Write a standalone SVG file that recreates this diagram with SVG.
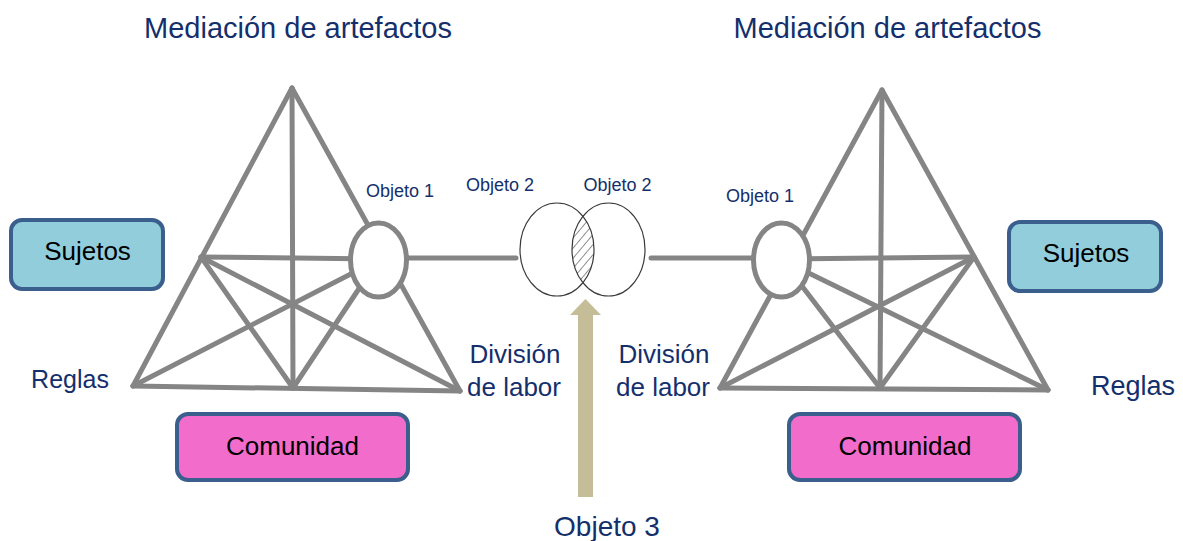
<svg xmlns="http://www.w3.org/2000/svg" width="1183" height="541" viewBox="0 0 1183 541">
<style>
.ln{stroke:#858585;stroke-width:5;fill:none;stroke-linecap:round}
.obj{fill:#fff;stroke:#858585;stroke-width:5}
.venn{fill:none;stroke:#3a3a3a;stroke-width:1.2}
.lbl{font-family:"Liberation Sans",Arial,sans-serif;fill:#142f6b}
.box{stroke:#3b5f8c;stroke-width:4}
.suj{fill:#92cddc}
.com{fill:#f26ccc}
.bt{font-family:"Liberation Sans",Arial,sans-serif;fill:#000;font-size:26px;text-anchor:middle}
</style>
<defs>
<pattern id="hatch" patternUnits="userSpaceOnUse" width="6.5" height="6.5" patternTransform="rotate(40)">
<line x1="0" y1="0" x2="0" y2="6.5" stroke="#555" stroke-width="1.3"/>
</pattern>
<clipPath id="clipL"><ellipse cx="557" cy="249.5" rx="37" ry="46.5"/></clipPath>
</defs>

<g id="connectors">
<line class="ln" x1="405" y1="258" x2="516" y2="258" stroke-linecap="butt"/>
<line class="ln" x1="651" y1="258" x2="755" y2="258" stroke-linecap="butt"/>
<polygon points="578,497 593,497 593,315 601,315 585.5,299 570,315 578,315" fill="#c4bd97"/>
</g>

<g id="left-system">
<line class="ln" x1="292" y1="88" x2="133" y2="386"/>
<line class="ln" x1="292" y1="88" x2="460" y2="391"/>
<line class="ln" x1="292" y1="88" x2="293" y2="388"/>
<line class="ln" x1="133" y1="386" x2="460" y2="391"/>
<line class="ln" x1="201" y1="257" x2="378" y2="259"/>
<line class="ln" x1="201" y1="257" x2="460" y2="391"/>
<line class="ln" x1="201" y1="257" x2="293" y2="388"/>
<line class="ln" x1="378" y1="260" x2="133" y2="386"/>
<line class="ln" x1="378" y1="260" x2="293" y2="388"/>
<ellipse id="objeto1-left" class="obj" cx="378.5" cy="260" rx="28" ry="37"/>
</g>

<g id="right-system">
<line class="ln" x1="882" y1="90" x2="720" y2="388"/>
<line class="ln" x1="882" y1="90" x2="1048" y2="390"/>
<line class="ln" x1="882" y1="90" x2="880" y2="388"/>
<line class="ln" x1="720" y1="388" x2="1048" y2="390"/>
<line class="ln" x1="974" y1="257" x2="782" y2="259"/>
<line class="ln" x1="974" y1="257" x2="720" y2="388"/>
<line class="ln" x1="974" y1="257" x2="880" y2="388"/>
<line class="ln" x1="782" y1="260" x2="1048" y2="390"/>
<line class="ln" x1="782" y1="260" x2="880" y2="388"/>
<ellipse id="objeto1-right" class="obj" cx="781.5" cy="260" rx="28" ry="37"/>
</g>

<g id="objeto2-venn">
<ellipse cx="557" cy="249.5" rx="37" ry="46.5" fill="#fff"/>
<ellipse cx="608.5" cy="249.5" rx="36.5" ry="46.5" fill="#fff"/>
<ellipse cx="608.5" cy="249.5" rx="36.5" ry="46.5" fill="url(#hatch)" clip-path="url(#clipL)"/>
<ellipse class="venn" cx="557" cy="249.5" rx="37" ry="46.5"/>
<ellipse class="venn" cx="608.5" cy="249.5" rx="36.5" ry="46.5"/>
</g>

<g id="sujetos-left">
<rect class="box suj" x="11" y="220" width="152" height="69" rx="11"/>
<text class="bt" x="87.5" y="260">Sujetos</text>
</g>
<g id="sujetos-right">
<rect class="box suj" x="1009" y="222" width="152" height="69" rx="11"/>
<text class="bt" x="1086" y="262">Sujetos</text>
</g>
<g id="comunidad-left">
<rect class="box com" x="177" y="414" width="231" height="66" rx="11"/>
<text class="bt" x="292.5" y="455">Comunidad</text>
</g>
<g id="comunidad-right">
<rect class="box com" x="789" y="414" width="231" height="66" rx="11"/>
<text class="bt" x="905" y="455">Comunidad</text>
</g>

<g id="labels">
<text class="lbl" x="298" y="38" font-size="29" text-anchor="middle">Mediación de artefactos</text>
<text class="lbl" x="887.5" y="38" font-size="29" text-anchor="middle">Mediación de artefactos</text>
<text class="lbl" x="400" y="197" font-size="18" text-anchor="middle">Objeto 1</text>
<text class="lbl" x="500" y="191" font-size="18" text-anchor="middle">Objeto 2</text>
<text class="lbl" x="617.5" y="191" font-size="18" text-anchor="middle">Objeto 2</text>
<text class="lbl" x="760" y="202" font-size="18" text-anchor="middle">Objeto 1</text>
<text class="lbl" x="70" y="388" font-size="25" text-anchor="middle">Reglas</text>
<text class="lbl" x="1133" y="395" font-size="27" text-anchor="middle">Reglas</text>
<text class="lbl" x="515" y="363" font-size="26" text-anchor="middle">División</text>
<text class="lbl" x="514" y="396" font-size="26" text-anchor="middle">de labor</text>
<text class="lbl" x="664" y="363" font-size="26" text-anchor="middle">División</text>
<text class="lbl" x="663" y="396" font-size="26" text-anchor="middle">de labor</text>
<text class="lbl" x="607" y="536" font-size="28" text-anchor="middle">Objeto 3</text>
</g>
</svg>
